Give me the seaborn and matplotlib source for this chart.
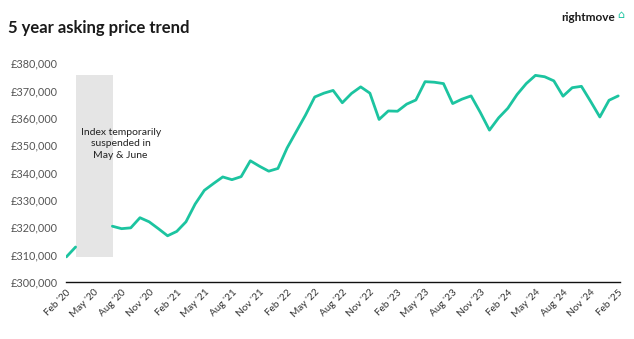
import numpy as np
import pandas as pd
import matplotlib
matplotlib.use("Agg")
import matplotlib.pyplot as plt
import seaborn as sns
from matplotlib.patches import Rectangle

# ---- data ----
months = ["Feb '20", "Mar '20", "Apr '20", "May '20", "Jun '20", "Jul '20", "Aug '20", "Sep '20",
          "Oct '20", "Nov '20", "Dec '20", "Jan '21", "Feb '21", "Mar '21", "Apr '21", "May '21",
          "Jun '21", "Jul '21", "Aug '21", "Sep '21", "Oct '21", "Nov '21", "Dec '21", "Jan '22",
          "Feb '22", "Mar '22", "Apr '22", "May '22", "Jun '22", "Jul '22", "Aug '22", "Sep '22",
          "Oct '22", "Nov '22", "Dec '22", "Jan '23", "Feb '23", "Mar '23", "Apr '23", "May '23",
          "Jun '23", "Jul '23", "Aug '23", "Sep '23", "Oct '23", "Nov '23", "Dec '23", "Jan '24",
          "Feb '24", "Mar '24", "Apr '24", "May '24", "Jun '24", "Jul '24", "Aug '24", "Sep '24",
          "Oct '24", "Nov '24", "Dec '24", "Jan '25", "Feb '25"]
prices = [309200, 312800, np.nan, np.nan, np.nan, 320400, 319500, 319800,
          323500, 322000, 319500, 316900, 318500, 322000, 328500, 333500,
          336000, 338400, 337400, 338500, 344300, 342300, 340500, 341500,
          349000, 355000, 361000, 367600, 369000, 370000, 365500, 368900,
          371300, 369000, 359400, 362500, 362400, 365000, 366500, 373200,
          373000, 372500, 365200, 366800, 368000, 362000, 355500, 360000,
          363500, 368500, 372500, 375500, 375000, 373500, 367900, 371000,
          371500, 366000, 360300, 366400, 368000]
tick_labels = months[::3]
y_ticks = [300000, 310000, 320000, 330000, 340000, 350000, 360000, 370000, 380000]
note = "Index temporarily\nsuspended in\nMay & June"

df = pd.DataFrame({"idx": np.arange(len(months)), "price": prices})
df["segment"] = df["price"].isna().cumsum()
df = df.dropna()

sns.set_theme(style="white")
plt.rcParams["font.family"] = ["Lato", "DejaVu Sans"]

fig = plt.figure(figsize=(6.34, 3.39), dpi=100)
ax = fig.add_axes([0.104, 0.168, 0.874, 0.646])

teal = "#1CC4A0"
sns.lineplot(data=df, x="idx", y="price", units="segment", estimator=None,
             color=teal, linewidth=2.0, ax=ax)
for ln in ax.lines:
    ln.set_solid_joinstyle("round")
    ln.set_solid_capstyle("round")

ax.add_patch(Rectangle((1.0, 309200), 4.1, 66300, facecolor="#E5E5E5",
                       edgecolor="none", zorder=0))
ax.text(5.9, 350500, note, ha="center", va="center", fontsize=7.5,
        color="#222222", linespacing=1.35, zorder=5)

ax.set_xlim(-0.05, 60.2)
ax.set_ylim(300000, 380000)
ax.set_xticks(np.arange(0, len(months), 3))
ax.set_xticklabels(tick_labels, rotation=45, ha="right", rotation_mode="anchor",
                   fontsize=7.2, color="#333333")
ax.set_yticks(y_ticks)
ax.set_yticklabels([f"£{v:,}" for v in y_ticks], fontsize=7.8, color="#555555")
ax.tick_params(axis="both", length=0, pad=6)
ax.tick_params(axis="x", pad=4)
ax.set_xlabel("")
ax.set_ylabel("")
for s in ["top", "right", "left"]:
    ax.spines[s].set_visible(False)
ax.spines["bottom"].set_color("#111111")
ax.spines["bottom"].set_linewidth(1.0)
ax.grid(False)

fig.text(0.013, 0.918, "5 year asking price trend", fontsize=12, fontweight="bold",
         color="#1a1a1a", ha="left", va="center")
fig.text(0.970, 0.948, "rightmove", fontsize=8.5, fontweight="bold",
         color="#1a1a1a", ha="right", va="center")
fig.text(0.973, 0.955, "⌂", fontsize=8, color=teal, ha="left", va="center",
         family="DejaVu Sans")

fig.savefig("out.png", dpi=100, facecolor="white")
